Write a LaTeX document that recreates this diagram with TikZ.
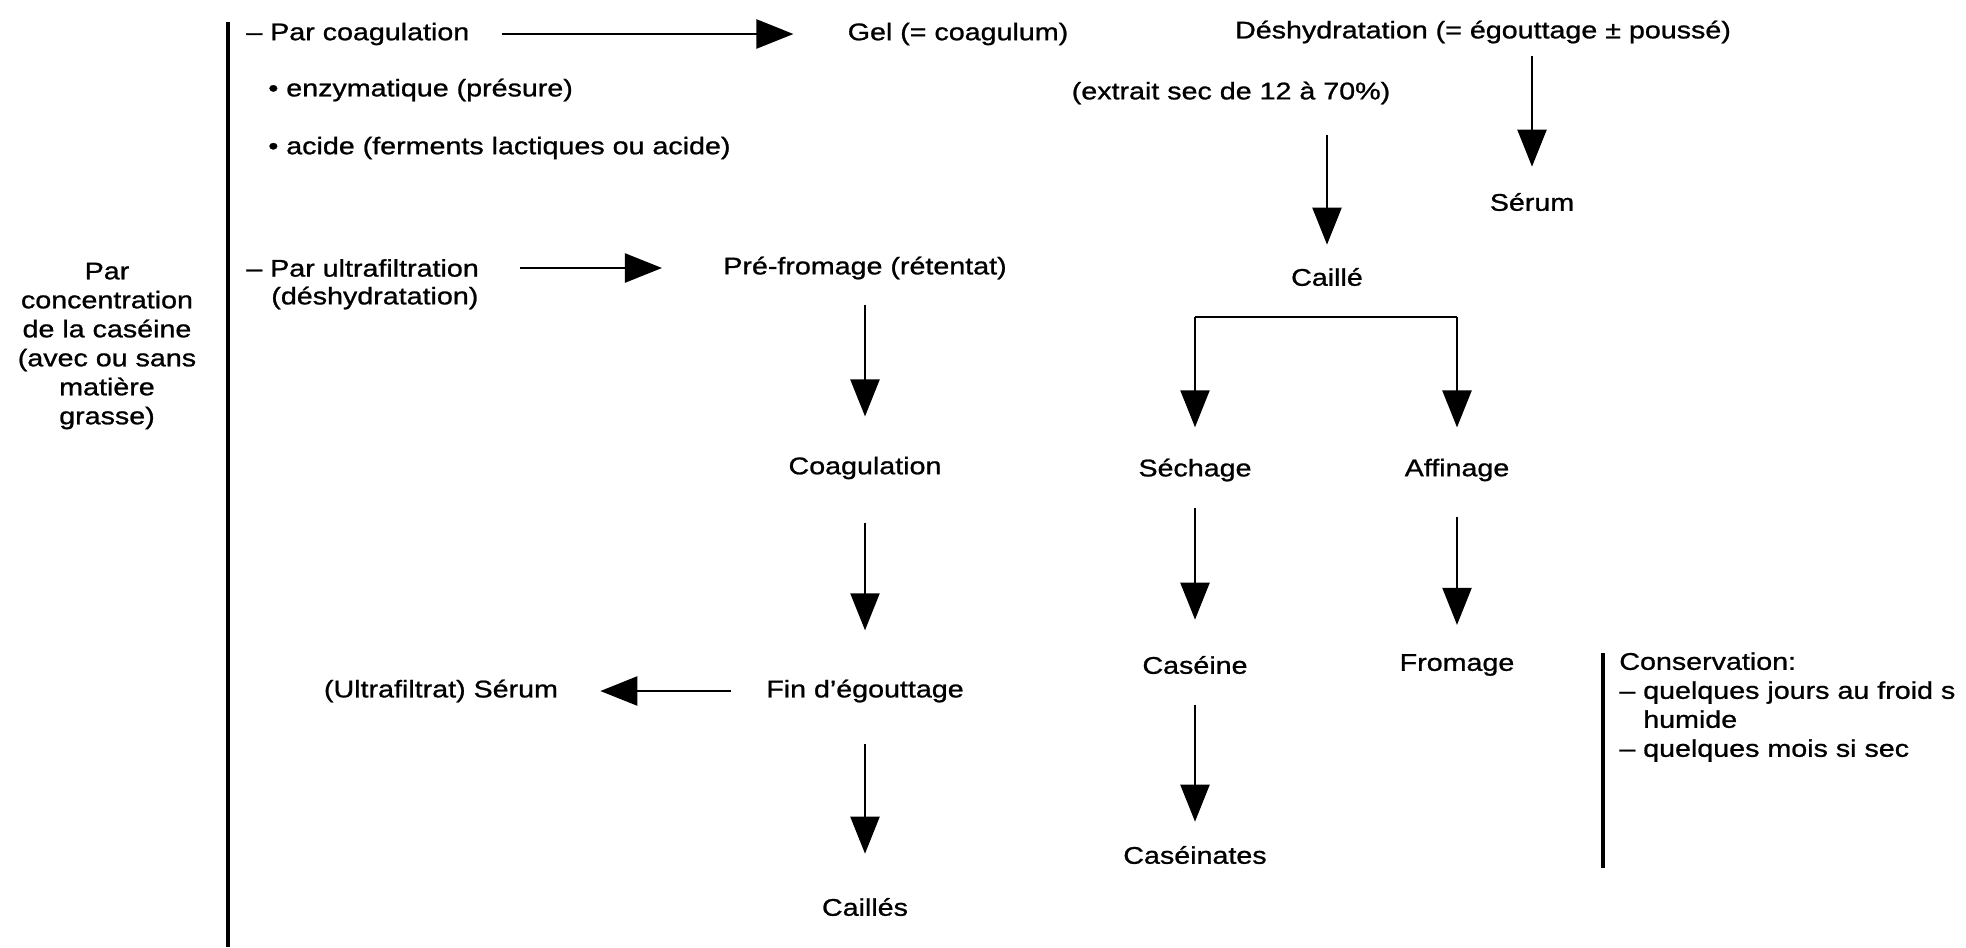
\documentclass[tikz,border=0pt]{standalone}
\usepackage{fontspec}
\setmainfont{Liberation Sans}[FakeStretch=1.19,FakeBold=1]
\usetikzlibrary{arrows.meta}

\begin{document}
\begin{tikzpicture}[x=0.02cm,y=-0.02cm,
        every node/.style={inner sep=0pt,font=\fontsize{13.7pt}{16.5pt}\selectfont},
        flow/.style={-{Triangle[length=0.74cm,width=0.58cm]},line width=1.3pt,
            shorten <=0.62cm,shorten >=0.66cm},
        flow side/.style={flow,shorten <=0.7cm,shorten >=1.05cm},
        bar/.style={line width=2pt}]
    \useasboundingbox (0,0) rectangle (1966,947);
    % left column
    \node[align=center] (concen) at (107,346)
        {Par\\concentration\\de la caséine\\(avec ou sans\\matière\\grasse)};
    \coordinate (bartop) at (228,22);
    \coordinate (barbot) at (228,947);
    \draw[bar] (bartop) -- (barbot);
    % coagulation route
    \node[anchor=west] (pcoag) at (246,34) {– Par coagulation};
    \node[anchor=west] (enzym) at (268,90) {• enzymatique (présure)};
    \node[anchor=west] (acide) at (268,148) {• acide (ferments lactiques ou acide)};
    \node (gel) at (958,34) {Gel (= coagulum)};
    \node (desh) at (1483,32) {Déshydratation (= égouttage ± poussé)};
    \node (extrait) at (1231,93) {(extrait sec de 12 à 70\%)};
    \node (serumA) at (1532,202) {Sérum};
    \node (caille) at (1327,277) {Caillé};
    \node (sechage) at (1195,470) {Séchage};
    \node (affinage) at (1457,470) {Affinage};
    \node (caseine) at (1195,665) {Caséine};
    \node (fromage) at (1457,665) {Fromage};
    \node (caseinates) at (1195,855) {Caséinates};
    % ultrafiltration route
    \node[anchor=west] (pultra) at (246,268) {– Par ultrafiltration};
    \node[anchor=west] (deshyd) at (271,298) {(déshydratation)};
    \node (prefro) at (865,268) {Pré-fromage (rétentat)};
    \node (coag) at (865,468) {Coagulation};
    \node (fin) at (865,691) {Fin d'égouttage};
    \node (ultraserum) at (441,691) {(Ultrafiltrat) Sérum};
    \node (cailles) at (865,907) {Caillés};
    % storage note
    \node[anchor=north west,align=left] (conserv) at (1619,652)
        {Conservation:\\– quelques jours au froid s\\\phantom{– }humide\\– quelques mois si sec};
    \coordinate (constop) at (1603,653);
    \coordinate (consbot) at (1603,868);
    \draw[bar] (constop) -- (consbot);
    % arrows
    \draw[flow side,shorten <=0.64cm,shorten >=1.08cm] (pcoag.east) -- (gel.west);
    \draw[flow side,shorten <=0.82cm,shorten >=1.22cm] (pultra.east) -- (prefro.west);
    \draw[flow side,shorten <=0.7cm,shorten >=0.84cm] (fin.west) -- (ultraserum.east);
    \draw[flow,shorten <=0.5cm,shorten >=0.8cm] (prefro) -- (coag);
    \draw[flow,shorten <=0.86cm,shorten >=0.98cm] (coag) -- (fin);
    \draw[flow,shorten <=0.82cm,shorten >=0.88cm] (fin) -- (cailles);
    \draw[flow,shorten <=0.24cm,shorten >=0.52cm] (serumA |- desh.south) -- (serumA.north);
    \draw[flow,shorten <=0.6cm,shorten >=0.46cm] (caille |- extrait.south) -- (caille.north);
    \coordinate (fork) at (1327,317);
    \draw[line width=1.3pt] (fork -| sechage) -- (fork -| affinage);
    \foreach \n in {sechage,affinage}
        \draw[flow,shorten <=0pt,shorten >=0.62cm] (fork -| \n) -- (\n.north);
    \draw[flow,shorten <=0.52cm,shorten >=0.72cm] (sechage) -- (caseine);
    \draw[flow,shorten <=0.7cm,shorten >=0.58cm] (affinage) -- (fromage);
    \draw[flow,shorten <=0.62cm,shorten >=0.48cm] (caseine) -- (caseinates);
\end{tikzpicture}
\end{document}
